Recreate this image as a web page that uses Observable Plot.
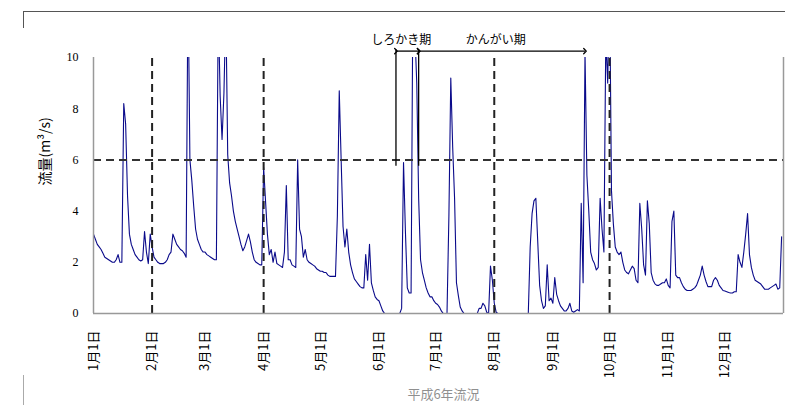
<!DOCTYPE html>
<html><head><meta charset="utf-8">
<script src="https://cdn.jsdelivr.net/npm/d3@7"></script>
<script src="https://cdn.jsdelivr.net/npm/@observablehq/plot@0.6"></script>
<style>
body{margin:0;background:#fff;}
#wrap{position:relative;width:785px;height:405px;overflow:hidden;background:#fff;}
#wrap svg{position:absolute;left:0;top:0;}
#frameTop{position:absolute;left:23px;top:11px;width:780px;height:16px;border-top:1px solid #555;border-left:1px solid #555;}
#frameBot{position:absolute;left:23px;top:375px;height:30px;border-left:1px solid #aaa;}
#fade{position:absolute;left:25px;top:377px;width:760px;height:28px;background:rgba(255,255,255,0.45);}
</style></head><body>
<div id="wrap"><div id="frameTop"></div><div id="frameBot"></div></div>
<script>
// 平成6年 (1994) daily flow, m³/s, one array per month
const jan = [3.1,2.9,2.7,2.6,2.5,2.35,2.2,2.15,2.1,2.05,2.0,2.0,2.1,2.3,2.0,2.0,8.2,7.4,4.6,3.1,2.7,2.5,2.3,2.2,2.1,2.05,2.1,3.2,2.4,1.95,3.1];
const feb = [2.6,2.2,2.1,2.0,1.95,1.95,1.95,2.0,2.1,2.3,2.4,3.1,2.9,2.7,2.6,2.5,2.45,2.35,2.2,13,6.0,5.2,4.2,3.3,2.9,2.7,2.5,2.4];
const mar = [2.4,2.3,2.25,2.2,2.15,2.1,2.1,12,8.5,6.8,8.6,12,6.2,5.1,4.6,4.0,3.6,3.3,3.0,2.7,2.45,2.6,2.85,3.1,2.8,2.4,2.1,2.0,1.95,1.9,1.9];
const apr = [5.7,4.4,3.1,2.3,2.5,2.0,2.4,1.95,1.9,1.85,1.8,2.4,5.0,2.1,2.1,1.9,1.85,1.8,6.0,3.3,3.0,2.2,2.5,2.1,2.0,1.95,1.9,1.85,1.75,1.7];
const may = [1.65,1.65,1.6,1.6,1.5,1.45,1.45,1.45,1.45,3.8,8.7,6.0,3.4,2.6,3.3,2.4,1.9,1.6,1.35,1.25,1.15,1.05,1.0,1.0,2.3,1.3,2.7,1.2,0.9,0.65,0.55];
const jun = [0.5,0.3,0.1,0,0,0,0,0,0,0,0,0,0.2,5.9,3.2,1.0,0.8,0.8,13,11,9.0,4.5,2.1,1.6,1.3,1.0,0.8,0.65,0.65,0.5];
const jul = [0.4,0.35,0.25,0.1,0,0,0,3.8,9.2,6.5,4.5,1.2,0.7,0.25,0.1,0,0,0,0,0,0,0,0,0.2,0.2,0.4,0.3,0.05,0,1.85,1.3];
const aug = [0.4,0.05,0,0,0,0,0,0,0,0,0,0,0,0,0,0,0,0,0,2.6,3.9,4.4,4.5,2.8,1.1,0.5,0.2,0.3,1.9,0.5,0.6];
const sep = [0.4,1.4,0.75,0.5,0.3,0.2,0.1,0.1,0.2,0.4,0.1,0.05,0.1,0.15,0.1,4.3,1.2,10.2,5.4,4.0,2.4,2.1,1.95,1.7,1.8,4.5,3.3,2.4,10.8,9.0];
const oct = [13,4.8,3.5,2.6,2.4,2.3,2.4,2.0,1.7,1.6,1.55,1.7,1.85,1.75,1.3,1.2,4.3,3.3,1.9,1.5,4.4,3.5,1.6,1.3,1.16,1.1,1.1,1.15,1.2,1.2,1.35];
const nov = [1.1,1.0,3.6,4.0,1.5,1.4,1.4,1.2,1.05,0.95,0.9,0.9,0.9,0.95,1.0,1.1,1.3,1.5,1.85,1.5,1.25,1.05,1.05,1.05,1.3,1.4,1.3,1.1,1.0,0.9];
const dec = [0.88,0.85,0.82,0.8,0.8,0.85,0.85,2.3,2.0,1.8,2.4,3.1,3.9,2.3,1.8,1.5,1.3,1.25,1.2,1.15,1.05,0.95,0.95,0.95,1.0,1.05,1.1,1.15,0.95,1.0,3.0];

const year = 1994;
const monthLabels = ["1月1日","2月1日","3月1日","4月1日","5月1日","6月1日","7月1日","8月1日","9月1日","10月1日","11月1日","12月1日"];
const yTicks = [0,2,4,6,8,10];
const threshold = 6;                 // 流量 6 m³/s
const dashedMonths = [2,4,8,10];     // 月 (1-based) with dashed guide lines
const periodNames = ["しろかき期","かんがい期"];
const periodStarts = ["1994-06-10","1994-06-22"];
const periodEnds = ["1994-06-22","1994-09-18"];
const yLabel = "流量(m³/s)";
const xLabel = "平成6年流況";

const months = [jan,feb,mar,apr,may,jun,jul,aug,sep,oct,nov,dec];
const data = months.flatMap((vals, m) => vals.map((v, i) => ({date: new Date(Date.UTC(year, m, i + 1)), flow: v})));
const tickDates = monthLabels.map((_, m) => new Date(Date.UTC(year, m, 1)));
const dashedDates = dashedMonths.map(m => new Date(Date.UTC(year, m - 1, 1)));
const x0 = new Date(Date.UTC(year, 0, 1)), x1 = new Date(Date.UTC(year + 1, 0, 1));
const periods = periodNames.map((name, i) => ({name, start: new Date(periodStarts[i] + "T00:00Z"), end: new Date(periodEnds[i] + "T00:00Z")}));
periods.forEach(p => p.mid = new Date((+p.start + +p.end) / 2));
const boundaries = [periods[0].start, periods[0].end];

const serif = '"Liberation Serif","Noto Sans CJK JP",serif';
const jp = '"Noto Sans CJK JP",sans-serif';

const chart = Plot.plot({
  width: 785, height: 405,
  marginLeft: 93, marginRight: 2, marginTop: 57, marginBottom: 92,
  style: {fontFamily: serif, fontSize: "12px", color: "#000", background: "transparent", overflow: "visible"},
  x: {type: "utc", domain: [x0, x1]},
  y: {domain: [0, 10]},
  marks: [
    Plot.line(data, {x: "date", y: "flow", stroke: "#0a0a8a", strokeWidth: 1.1, clip: true}),
    Plot.ruleY([threshold], {stroke: "#333", strokeWidth: 2, strokeDasharray: "8,5"}),
    Plot.ruleX(dashedDates, {y1: 0, y2: 10, stroke: "#222", strokeWidth: 2, strokeDasharray: "8,5"}),
    Plot.ruleY([0], {stroke: "#999", strokeWidth: 1.5}),
    Plot.ruleX([x0, x1], {y1: 0, y2: 10, stroke: "#999", strokeWidth: 1.5}),
    Plot.axisY({ticks: yTicks, tickSize: 0, tickPadding: 15, label: null, fontSize: 12}),
    Plot.axisX({ticks: tickDates, tickFormat: d => monthLabels[d.getUTCMonth()], tickRotate: -90, tickSize: 0, tickPadding: 17, label: null, fontSize: 13, fontFamily: jp}),
    Plot.text([yLabel], {frameAnchor: "left", y: 5, rotate: -90, dx: -48, fontFamily: jp, fontSize: 14}),
    Plot.text([xLabel], {frameAnchor: "bottom", dy: 85, dx: 5, fontFamily: jp, fontSize: 13, fill: "#333"}),
    Plot.ruleX(boundaries, {y1: 5.75, y2: 10.3, stroke: "#000", strokeWidth: 1.3}),
    Plot.link(periods, {x1: "start", x2: "end", y1: 10.25, y2: 10.25, stroke: "#000", strokeWidth: 1.3, markerStart: "arrow", markerEnd: "arrow"}),
    Plot.text(periods, {x: "mid", y: 10.66, text: "name", dx: -6, fontFamily: jp, fontSize: 12})
  ]
});
document.getElementById("wrap").appendChild(chart);
const fade = document.createElement("div"); fade.id = "fade";
document.getElementById("wrap").appendChild(fade);
</script>
</body></html>
